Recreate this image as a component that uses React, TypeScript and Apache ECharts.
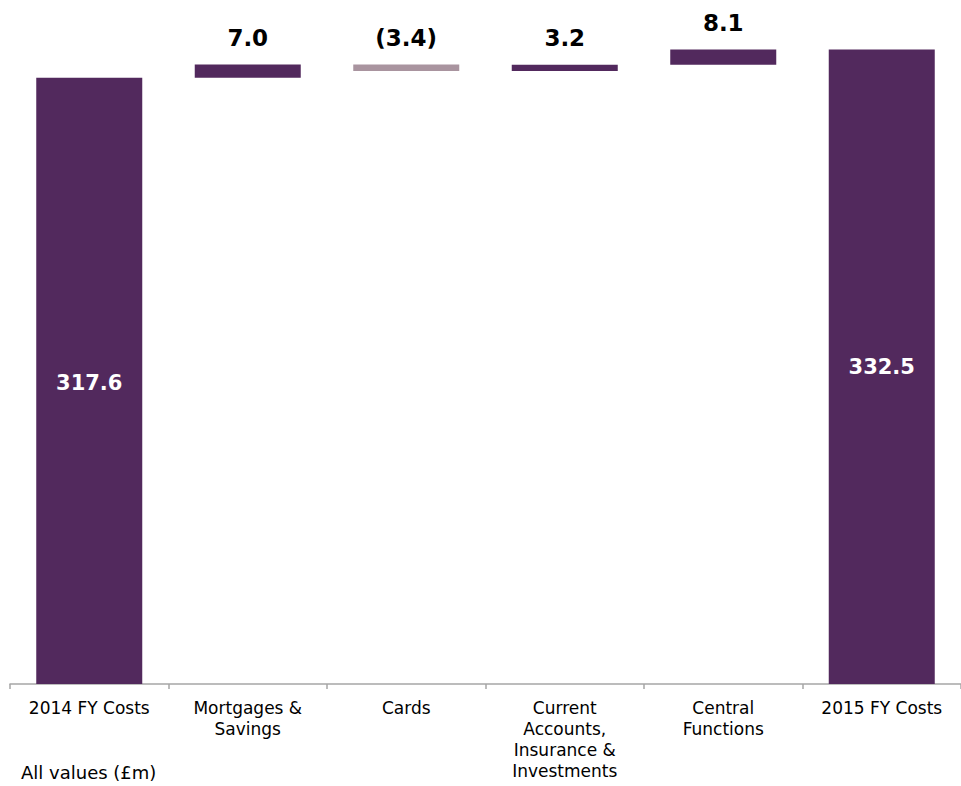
import React, { useEffect, useRef } from "react";
import * as echarts from "echarts";

const categories = [
  "2014 FY Costs",
  "Mortgages &\nSavings",
  "Cards",
  "Current\nAccounts,\nInsurance &\nInvestments",
  "Central\nFunctions",
  "2015 FY Costs",
];
const startTotal = 317.6;
const deltas = [7.0, -3.4, 3.2, 8.1];
const endTotal = 332.5;
const deltaLabels = ["7.0", "(3.4)", "3.2", "8.1"];
const totalLabels = ["317.6", "332.5"];

const DARK = "#52295D";
const LIGHT = "#A9949F";

export default function App() {
  const ref = useRef<HTMLDivElement>(null);
  useEffect(() => {
    if (!ref.current) return;
    const chart = echarts.init(ref.current, null, { renderer: "svg" });

    const base: number[] = [0];
    const vals: any[] = [];
    vals.push({
      value: startTotal,
      itemStyle: { color: DARK },
      label: {
        show: true,
        position: "inside",
        offset: [0, 2],
        formatter: totalLabels[0],
        color: "#fff",
        fontFamily: "DejaVu Sans",
        fontWeight: "bold",
        fontSize: 21,
      },
    });
    let running = startTotal;
    deltas.forEach((d, i) => {
      const next = running + d;
      base.push(Math.min(running, next));
      vals.push({
        value: Math.abs(d),
        itemStyle: { color: d < 0 ? LIGHT : DARK },
        label: {
          show: true,
          position: "top",
          distance: 15,
          formatter: deltaLabels[i],
          color: "#000",
          fontFamily: "DejaVu Sans",
          fontWeight: "bold",
          fontSize: 23,
        },
      });
      running = next;
    });
    base.push(0);
    vals.push({
      value: endTotal,
      itemStyle: { color: DARK },
      label: {
        show: true,
        position: "inside",
        formatter: totalLabels[1],
        color: "#fff",
        fontFamily: "DejaVu Sans",
        fontWeight: "bold",
        fontSize: 21,
      },
    });

    chart.setOption({
      animation: false,
      grid: { left: 10, right: 0, top: 16, bottom: 102 },
      xAxis: {
        type: "category",
        data: categories,
        axisLine: { lineStyle: { color: "#a6a6a6", width: 1.5 } },
        axisTick: { show: true, length: 5, interval: 0, lineStyle: { color: "#a6a6a6", width: 1.5 } },
        axisLabel: {
          interval: 0,
          color: "#000",
          fontFamily: "DejaVu Sans",
          fontSize: 17,
          lineHeight: 21,
          margin: 13,
          align: "center",
        },
      },
      yAxis: {
        type: "value",
        min: 0,
        max: 350,
        show: false,
        splitLine: { show: false },
      },
      graphic: [
        {
          type: "text",
          left: 21,
          top: 763,
          style: {
            text: "All values (£m)",
            fill: "#000",
            font: "18px 'DejaVu Sans'",
          },
        },
      ],
      series: [
        {
          type: "bar",
          stack: "w",
          data: base,
          barWidth: 106,
          itemStyle: { color: "transparent" },
          emphasis: { disabled: true },
          silent: true,
        },
        {
          type: "bar",
          stack: "w",
          data: vals,
          barWidth: 106,
        },
      ],
    });
    return () => chart.dispose();
  }, []);
  return (
    <div
      ref={ref}
      style={{ position: "absolute", left: 0, top: 0, width: 961, height: 786, background: "#fff" }}
    />
  );
}
